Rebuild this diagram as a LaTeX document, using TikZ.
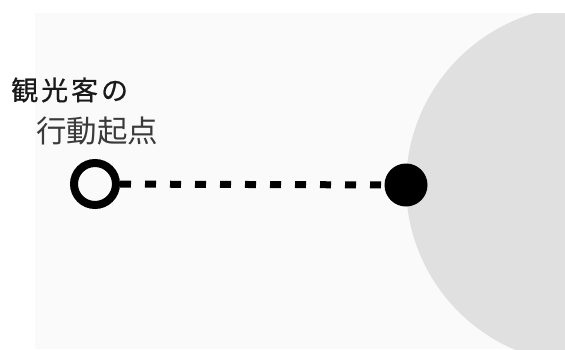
\documentclass[tikz,border=0pt]{standalone}
\usepackage{fontspec}
\newfontfamily\jpfont{Noto Sans CJK JP}
\newfontfamily\jpspaced[LetterSpace=11,FakeBold=0.6]{Noto Sans CJK JP}
\definecolor{panelbg}{HTML}{FAFAFA}
\definecolor{regiongray}{HTML}{E0E0E0}
\definecolor{labelone}{HTML}{1A1A1A}
\definecolor{labeltwo}{HTML}{3A3A3A}
\tikzset{
  ring/.style={circle, draw=black, line width=8pt, fill=panelbg, minimum size=42pt, inner sep=0pt},
  dot/.style={circle, fill=black, minimum size=43pt, inner sep=0pt},
  conn/.style={draw=black, line width=7pt, dash pattern=on 11pt off 14pt},
  labelone/.style={inner sep=0pt, anchor=west, text=labelone, font=\jpspaced\fontsize{27pt}{31pt}\selectfont},
  labeltwo/.style={inner sep=0pt, anchor=west, text=labeltwo, font=\jpfont\fontsize{30.5pt}{35pt}\selectfont},
}
\begin{document}
\begin{tikzpicture}[x=1pt,y=-1pt]
\useasboundingbox (0,0) rectangle (565,349);
\fill[white] (0,0) rectangle (565,349);
\fill[panelbg] (35,13) rectangle (565,349);
\begin{scope}
  \clip (35,13) rectangle (565,349);
  \fill[regiongray] (585,185) circle[radius=179pt];
\end{scope}
\node[ring] (origin) at (95,184) {};
\node[dot] (dest) at (406,185) {};
\draw[conn] (origin) -- (dest);
\node[labelone] (lineA) at (11,90) {観光客の};
\node[labeltwo] (lineB) at (36,131.5) {行動起点};
\end{tikzpicture}
\end{document}
